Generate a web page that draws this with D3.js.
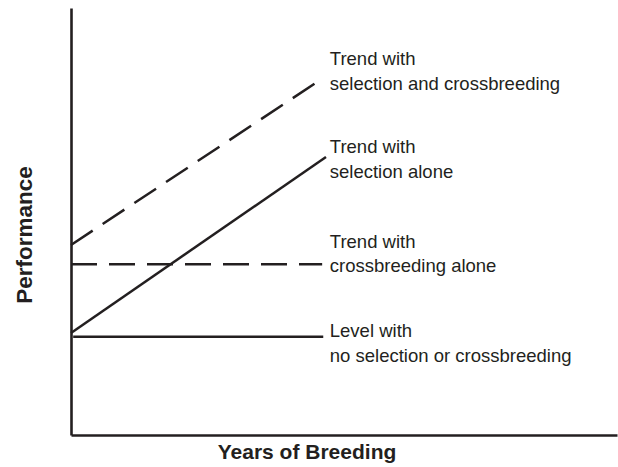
<!DOCTYPE html>
<html>
<head>
<meta charset="utf-8">
<script src="https://cdn.jsdelivr.net/npm/d3@7"></script>
<style>
  body { margin: 0; background: #fff; }
  text { font-family: "Liberation Sans", Arial, Helvetica, sans-serif; fill: #231f20; }
</style>
</head>
<body>
<div id="container"></div>
<script>
// values in arbitrary units (years on x, performance on y)
const seriesNames = ["selCross", "selAlone", "crossAlone", "none"];
const seriesX = [[0, 45.6], [0, 46.7], [0, 46.0], [0.4, 46.2]];
const seriesY = [[44.5, 83.1], [23.9, 65.1], [40.0, 40.0], [23.0, 23.0]];
const seriesDashed = [true, false, true, false];
const labelLines = [
  ["Trend with", "selection and crossbreeding"],
  ["Trend with", "selection alone"],
  ["Trend with", "crossbreeding alone"],
  ["Level with", "no selection or crossbreeding"]
];
const labelX = [47.4, 47.4, 47.4, 47.4];
const labelY = [86.65, 66.0, 43.8, 22.95];

const width = 618, height = 467;
const margin = {top: 8, right: 1, bottom: 32, left: 71};

const svg = d3.select("#container")
  .append("svg")
  .attr("width", width)
  .attr("height", height);

const x = d3.scaleLinear()
  .domain([0, 100])
  .range([margin.left, width - margin.right]);

const y = d3.scaleLinear()
  .domain([0, 100])
  .range([height - margin.bottom, margin.top]);

const ink = "#231f20";

// axes drawn as plain lines
svg.append("g")
  .attr("transform", `translate(0,${y(0)})`)
  .call(d3.axisBottom(x).tickValues([]).tickSizeOuter(0))
  .call(g => g.select(".domain").attr("stroke", ink).attr("stroke-width", 2.6));

svg.append("g")
  .attr("transform", `translate(${x(0)},0)`)
  .call(d3.axisLeft(y).tickValues([]).tickSizeOuter(0))
  .call(g => g.select(".domain").attr("stroke", ink).attr("stroke-width", 2.6));

const line = d3.line()
  .x(d => x(d[0]))
  .y(d => y(d[1]));

seriesNames.forEach((name, i) => {
  const pts = seriesX[i].map((v, j) => [v, seriesY[i][j]]);
  svg.append("path")
    .datum(pts)
    .attr("class", "line " + name)
    .attr("fill", "none")
    .attr("stroke", ink)
    .attr("stroke-width", 2.5)
    .attr("stroke-dasharray", seriesDashed[i] ? "26,12" : null)
    .attr("d", line);

  const t = svg.append("text")
    .attr("x", x(labelX[i]))
    .attr("y", y(labelY[i]))
    .style("font-size", "18.5px");
  labelLines[i].forEach((s, k) => {
    t.append("tspan")
      .attr("x", x(labelX[i]))
      .attr("dy", k === 0 ? 0 : 24.5)
      .text(s);
  });
});

svg.append("text")
  .attr("x", 307)
  .attr("y", 459)
  .attr("text-anchor", "middle")
  .style("font-size", "21px")
  .style("font-weight", "bold")
  .text("Years of Breeding");

svg.append("text")
  .attr("transform", "rotate(-90)")
  .attr("x", -235)
  .attr("y", 32)
  .attr("text-anchor", "middle")
  .style("font-size", "22.5px")
  .style("font-weight", "bold")
  .text("Performance");
</script>
</body>
</html>
